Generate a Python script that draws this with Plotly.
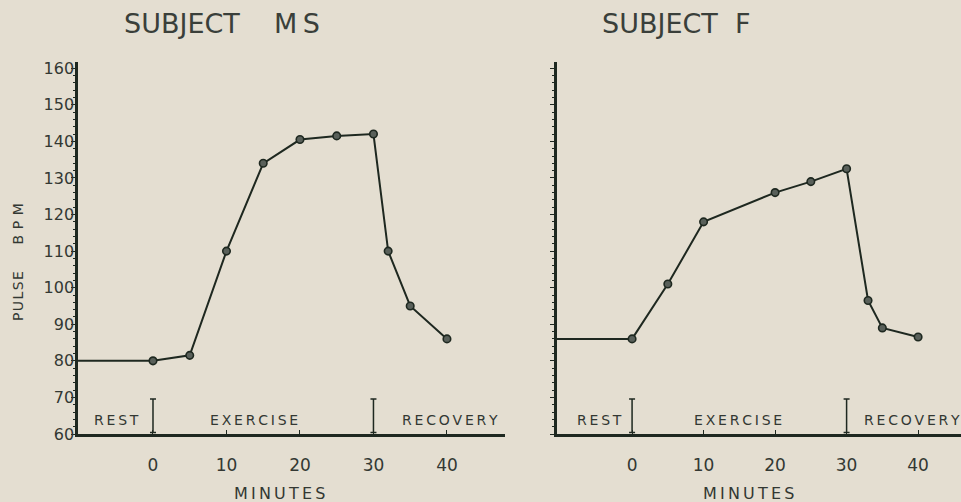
import plotly.graph_objects as go

# ---- data ----
ms_minutes = [0, 5, 10, 15, 20, 25, 30, 32, 35, 40]
ms_pulse = [80, 81.5, 110, 134, 140.5, 141.5, 142, 110, 95, 86]
ms_rest = 80

f_minutes = [0, 5, 10, 20, 25, 30, 33, 35, 40]
f_pulse = [86, 101, 118, 126, 129, 132.5, 96.5, 89, 86.5]
f_rest = 86

phase_marks = [0, 30]
x_ticks = [0, 10, 20, 30, 40]
y_ticks = [60, 70, 80, 90, 100, 110, 120, 130, 140, 150, 160]
titles = ["SUBJECT\u00a0\u00a0\u00a0\u00a0M\u2009S", "SUBJECT\u00a0\u00a0F"]
phase_labels = ["REST", "EXERCISE", "RECOVERY"]
phase_label_x = [[-4.9, 13.7, 40.4], [-4.6, 14.8, 39.2]]
x_title = "MINUTES"
y_title = ["PULSE", "BPM"]

INK = "#1e2820"
TEXT = "#333833"
PAPER = "#e4ded1"
FONT = "DejaVu Sans"


def spaced(s, gap="\u2009"):
    return gap.join(s)


fig = go.Figure()

panels = [
    (ms_minutes, ms_pulse, ms_rest, "x", "y", [-10.2, 47.9]),
    (f_minutes, f_pulse, f_rest, "x2", "y2", [-10.5, 46.0]),
]
for i, (xs, ys, rest, xa, ya, xr) in enumerate(panels):
    fig.add_trace(go.Scatter(x=[xr[0]] + xs[:1], y=[rest, ys[0]], mode="lines",
                             line=dict(color=INK, width=2), xaxis=xa, yaxis=ya,
                             showlegend=False, hoverinfo="skip"))
    fig.add_trace(go.Scatter(x=xs, y=ys, mode="lines+markers",
                             line=dict(color=INK, width=2),
                             marker=dict(symbol="circle", size=7.5, color="#59605a",
                                         line=dict(color=INK, width=1.6)),
                             xaxis=xa, yaxis=ya, showlegend=False))
    fig.add_trace(go.Scatter(x=phase_marks, y=[65] * len(phase_marks), mode="markers",
                             marker=dict(size=0.1, color=INK),
                             error_y=dict(type="constant", value=4.6, width=3,
                                          color=INK, thickness=1.5),
                             xaxis=xa, yaxis=ya, showlegend=False, hoverinfo="skip"))
    for lab, lx in zip(phase_labels, phase_label_x[i]):
        fig.add_annotation(x=lx, y=63.8, text=spaced(lab), showarrow=False,
                           xref=xa, yref=ya, xanchor="center", yanchor="middle",
                           font=dict(family=FONT, size=14, color=TEXT))

axis_common = dict(showline=True, linecolor=INK, linewidth=2.5, showgrid=False,
                   zeroline=False, mirror=False)
xtick = dict(tickvals=x_ticks, ticks="inside", ticklen=4, tickcolor=INK,
             ticklabelstandoff=14, tickfont=dict(family=FONT, size=17, color=TEXT))
ytick = dict(tickvals=y_ticks, ticks="outside", ticklen=4, tickcolor=INK,
             ticklabelstandoff=-6,
             minor=dict(dtick=2, ticks="outside", ticklen=2, tickcolor=INK),
             tickfont=dict(family=FONT, size=16, color=TEXT))

fig.update_layout(
    width=961, height=502,
    paper_bgcolor=PAPER, plot_bgcolor=PAPER,
    margin=dict(l=0, r=0, t=62, b=68),
    xaxis=dict(domain=[0.0812, 0.5255], range=[-10.2, 47.9], anchor="y",
               **xtick, **axis_common),
    yaxis=dict(domain=[0, 1], range=[60, 161.7], anchor="x", **ytick, **axis_common),
    xaxis2=dict(domain=[0.5796, 1.0], range=[-10.5, 46.0], anchor="y2",
                **xtick, **axis_common),
    yaxis2=dict(domain=[0, 1], range=[60, 161.7], anchor="x2", showticklabels=False,
                **ytick, **axis_common),
)

H = 502 - 62 - 68


def py(pix):
    return (434 - pix) / H


for t, cx in zip(titles, [222, 676]):
    fig.add_annotation(x=cx / 961, y=py(23), xref="paper", yref="paper", text=t,
                       showarrow=False, xanchor="center", yanchor="middle",
                       font=dict(family=FONT, size=27, color="#3a3f3a"))
for cx in [279, 748]:
    fig.add_annotation(x=cx / 961, y=py(493), xref="paper", yref="paper",
                       text=spaced(x_title), showarrow=False, xanchor="center",
                       yanchor="middle", font=dict(family=FONT, size=16, color=TEXT))
y_label = spaced(y_title[0], "\u200a") + "\u00a0" * 6 + spaced(y_title[1], "\u2009\u2009")
fig.add_annotation(x=18 / 961, y=py(262), xref="paper", yref="paper", text=y_label,
                   textangle=-90, showarrow=False, xanchor="center", yanchor="middle",
                   font=dict(family=FONT, size=14, color=TEXT))

fig.write_html("out.html", post_script="document.body.style.margin='0';",
               config={"displayModeBar": False})
